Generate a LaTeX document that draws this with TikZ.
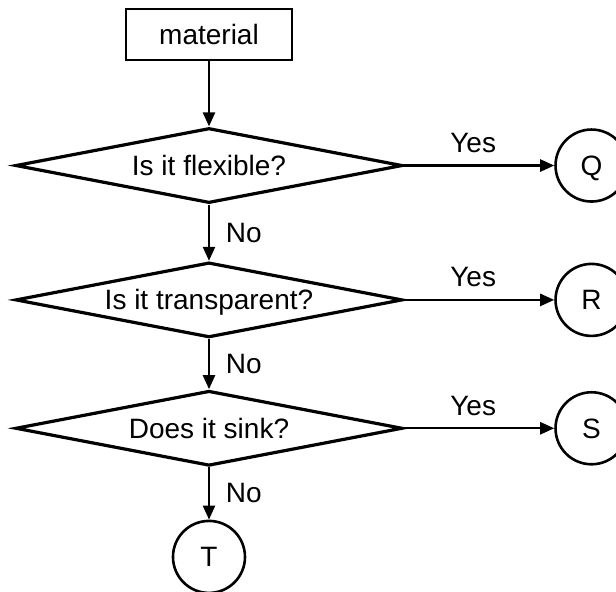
\documentclass[tikz,border=0pt]{standalone}
\usepackage{fontspec}
\setmainfont{Liberation Sans}
\usetikzlibrary{arrows.meta,matrix,calc}
\usetikzlibrary{shapes.geometric}

\begin{document}
\begin{tikzpicture}[font=\fontsize{14pt}{17pt}\selectfont,
    box/.style={draw,line width=1.3pt,minimum width=83pt,minimum height=25.5pt},
    query/.style={diamond,draw,line width=1.6pt,aspect=5,inner sep=0pt,
      minimum width=193.5pt,minimum height=37.5pt},
    leaf/.style={circle,draw,line width=1.3pt,inner sep=0pt,minimum size=36pt}]
\matrix (m) [matrix of nodes, row sep=25.25pt,
    column sep=75.4pt, text height=10pt, text depth=0pt]
    { |[box]| material & \\[7.65pt]
      |[query]| Is it flexible? & |[leaf]| Q \\[3.5pt]
      |[query]| Is it transparent? & |[leaf]| R \\[0.5pt]
      |[query]| Does it sink? & |[leaf]| S \\[1.2pt]
      |[leaf]| T & \\ };
       \path[-{Triangle[length=7pt,width=6pt]},line width=1.2pt]
    (m-1-1) edge (m-2-1)
    (m-2-1) edge node[right=4.5pt] {No} (m-3-1)
    (m-3-1) edge node[right=4.5pt] {No} (m-4-1)
    (m-4-1) edge node[right=4.5pt] {No} (m-5-1)
    (m-2-1) edge node[above=2.5pt,pos=.46] {Yes} (m-2-2)
    (m-3-1) edge node[above=2.5pt,pos=.46] {Yes} (m-3-2)
    (m-4-1) edge node[above=2.5pt,pos=.46] {Yes} (m-4-2);
    \pgfresetboundingbox
    \useasboundingbox ($(m-1-1.center)+(-104.5pt,17.25pt)$) rectangle +(308pt,-296pt);
\end{tikzpicture}
\end{document}
